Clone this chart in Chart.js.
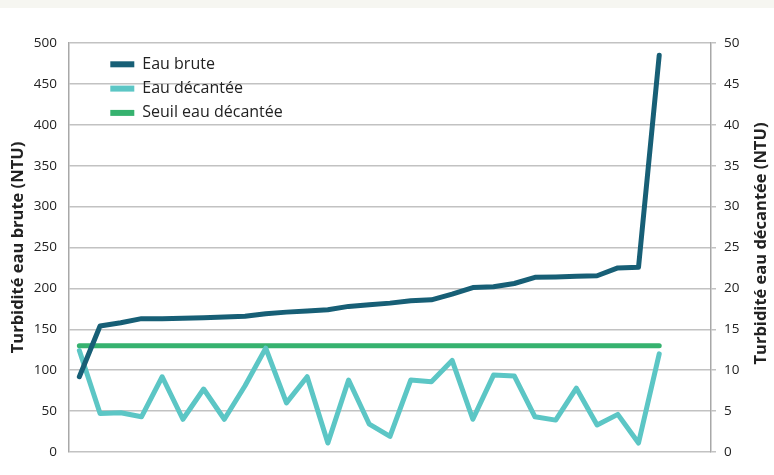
<!DOCTYPE html>
<html lang="fr">
<head>
<meta charset="utf-8">
<script src="https://cdn.jsdelivr.net/npm/chart.js@4"></script>
<style>
  html, body { margin: 0; padding: 0; background: #fff; }
  #bandeau { position: absolute; left: 0; top: 0; width: 774px; height: 8px; background: #f6f6f1; }
  #zone { position: absolute; left: 0; top: 0; width: 774px; height: 475px; }
</style>
</head>
<body>
<div id="bandeau"></div>
<div id="zone"><canvas id="turbidite"></canvas></div>
<script>
// 31 positions sur l'axe, 29 mesures triées par turbidité d'eau brute
var positions = ['1','2','3','4','5','6','7','8','9','10','11','12','13','14','15','16','17','18','19','20','21','22','23','24','25','26','27','28','29','30','31'];

var eauBrute = [92, 154, 158, 163, 163, 163.5, 164, 165, 166, 169, 171, 172.5, 174, 178, 180, 182, 185, 186, 193, 201, 202, 206, 213.5, 214, 215, 215.5, 225, 226, 485];

var eauDecantee = [12.4, 4.7, 4.8, 4.3, 9.2, 4.0, 7.7, 4.0, 8.1, 12.7, 6.0, 9.2, 1.1, 8.8, 3.4, 1.9, 8.8, 8.6, 11.2, 4.0, 9.4, 9.3, 4.3, 3.9, 7.8, 3.3, 4.6, 1.1, 12.0];

var seuil = [13, 13, 13, 13, 13, 13, 13, 13, 13, 13, 13, 13, 13, 13, 13, 13, 13, 13, 13, 13, 13, 13, 13, 13, 13, 13, 13, 13, 13];

var ticksGauche = [0, 50, 100, 150, 200, 250, 300, 350, 400, 450, 500];
var ticksDroite = [0, 5, 10, 15, 20, 25, 30, 35, 40, 45, 50];

var titreDroite = 'Turbidité eau décantée (NTU)';

const police = '"Open Sans", sans-serif';

// décale la légende dans la zone du graphique
const placeLegende = {
  id: 'placeLegende',
  afterLayout(chart) {
    chart.legend.left = chart.chartArea.left + 33;
    chart.legend.top = chart.chartArea.top + 5;
  }
};

// titre de l'axe de droite, lu de bas en haut comme celui de gauche
const titreAxeDroite = {
  id: 'titreAxeDroite',
  afterDraw(chart) {
    const c = chart.ctx;
    const a = chart.chartArea;
    c.save();
    c.translate(761, (a.top + a.bottom) / 2 - 4);
    c.rotate(-Math.PI / 2);
    c.font = 'bold 16.5px ' + police;
    c.fillStyle = '#222';
    c.textAlign = 'center';
    c.textBaseline = 'middle';
    c.fillText(titreDroite, 0, 0);
    c.restore();
  }
};

const ctx = document.getElementById('turbidite');

new Chart(ctx, {
  type: 'line',
  data: {
    labels: positions,
    datasets: [{
      label: 'Eau brute',
      data: eauBrute,
      yAxisID: 'y',
      borderColor: '#175f76',
      backgroundColor: '#175f76',
      borderWidth: 5,
      pointRadius: 0,
      borderCapStyle: 'round',
      borderJoinStyle: 'round'
    }, {
      label: 'Eau décantée',
      data: eauDecantee,
      yAxisID: 'y2',
      borderColor: '#5cc6c5',
      backgroundColor: '#5cc6c5',
      borderWidth: 5,
      pointRadius: 0,
      borderCapStyle: 'round',
      borderJoinStyle: 'round'
    }, {
      label: 'Seuil eau décantée',
      data: seuil,
      yAxisID: 'y2',
      borderColor: '#36b26f',
      backgroundColor: '#36b26f',
      borderWidth: 5,
      pointRadius: 0,
      borderCapStyle: 'round'
    }]
  },
  options: {
    responsive: true,
    maintainAspectRatio: false,
    animation: false,
    layout: {
      padding: { top: 43, bottom: 23, left: 0, right: 0 }
    },
    plugins: {
      tooltip: { enabled: false },
      legend: {
        position: 'chartArea',
        align: 'start',
        labels: {
          font: { family: police, size: 16 },
          color: '#222',
          boxWidth: 24,
          boxHeight: 6,
          padding: 8.3,
          useBorderRadius: true,
          borderRadius: 3,
          generateLabels(chart) {
            return chart.data.datasets.map(function (ds, i) {
              return {
                text: ds.label,
                fillStyle: ds.borderColor,
                strokeStyle: ds.borderColor,
                lineWidth: 0,
                fontColor: '#222',
                datasetIndex: i
              };
            });
          }
        }
      }
    },
    scales: {
      x: {
        type: 'category',
        offset: true,
        display: false
      },
      y: {
        position: 'left',
        min: 0,
        max: 500,
        afterFit(scale) { scale.width = 69; },
        afterBuildTicks(scale) { scale.ticks = ticksGauche.map(function (v) { return { value: v }; }); },
        ticks: {
          font: { family: police, size: 13.5 },
          color: '#222',
          padding: 12
        },
        grid: {
          color: '#c2c2c2',
          lineWidth: 1.5,
          drawTicks: false
        },
        border: { color: '#a8a8a8', width: 1.5 },
        title: {
          display: true,
          text: 'Turbidité eau brute (NTU)',
          font: { family: police, size: 16.5, weight: 'bold' },
          color: '#222',
          padding: { top: 8, bottom: 0 }
        }
      },
      y2: {
        position: 'right',
        min: 0,
        max: 50,
        afterFit(scale) { scale.width = 63; },
        afterBuildTicks(scale) { scale.ticks = ticksDroite.map(function (v) { return { value: v }; }); },
        ticks: {
          font: { family: police, size: 13.5 },
          color: '#222',
          padding: 8
        },
        grid: {
          drawOnChartArea: false,
          color: '#c2c2c2',
          lineWidth: 1.5,
          tickLength: 5
        },
        border: { color: '#a8a8a8', width: 1.5 }
      }
    }
  },
  plugins: [placeLegende, titreAxeDroite]
});
</script>
</body>
</html>
